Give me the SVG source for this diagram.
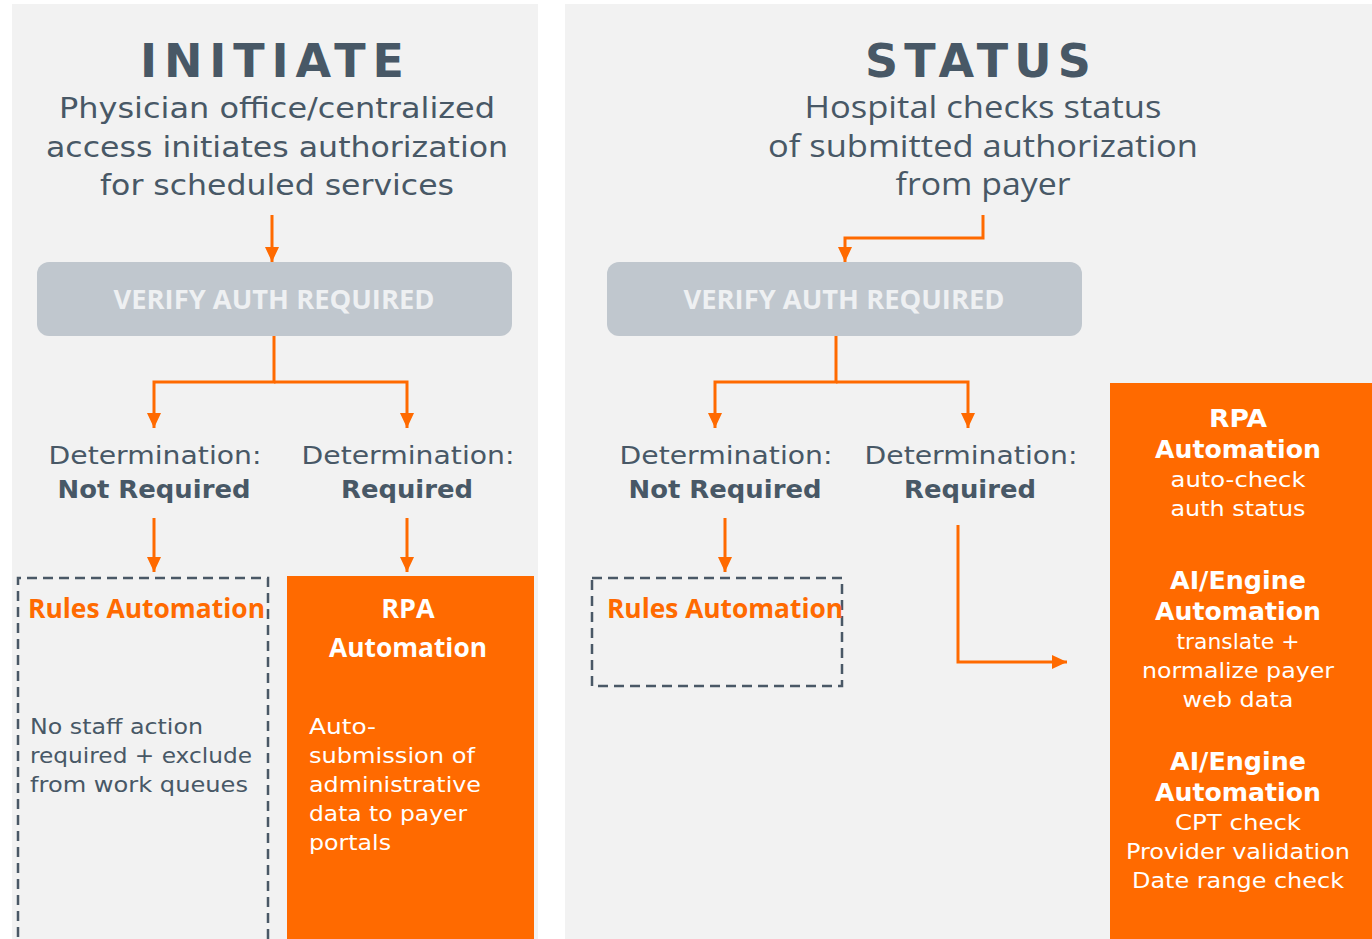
<svg xmlns="http://www.w3.org/2000/svg" width="1372" height="939" viewBox="0 0 1372 939">
<defs>
<marker id="ah" markerWidth="16" markerHeight="16" refX="15" refY="8" orient="auto" markerUnits="userSpaceOnUse" viewBox="0 0 16 16">
<path d="M0,1 L15,8 L0,15 Z" fill="#ff6a00"/>
</marker>
<style>
.panel{fill:#f2f2f2}
.title{font-family:"DejaVu Sans",sans-serif;font-weight:bold;fill:#485866;font-size:46px;text-anchor:middle}
.sub{font-family:"DejaVu Sans",sans-serif;fill:#485866;font-size:29px;text-anchor:middle}
.sub2{font-family:"Open Sans",sans-serif;fill:#485866;font-size:31px;text-anchor:middle}
.vbox{fill:#c0c7ce}
.vtxt{font-family:"Open Sans",sans-serif;font-weight:bold;fill:#eef0f2;font-size:26px;text-anchor:middle}
.det{font-family:"DejaVu Sans",sans-serif;fill:#485866;font-size:25px;text-anchor:middle}
.detb{font-family:"DejaVu Sans",sans-serif;font-weight:bold;fill:#485866;font-size:25px;text-anchor:middle}
.dash{fill:none;stroke:#4a5866;stroke-width:2.5;stroke-dasharray:10 6}
.rules{font-family:"Open Sans",sans-serif;font-weight:bold;fill:#ff6a00;font-size:26px}
.body{font-family:"DejaVu Sans",sans-serif;fill:#485866;font-size:22px}
.obox{fill:#ff6a00}
.wb{font-family:"DejaVu Sans",sans-serif;font-weight:bold;fill:#ffffff;font-size:25px;text-anchor:middle}
.wbc{font-family:"Open Sans",sans-serif;font-weight:bold;fill:#ffffff;font-size:27px;text-anchor:middle}
.w{font-family:"DejaVu Sans",sans-serif;fill:#ffffff;font-size:22px}
.wc{font-family:"DejaVu Sans",sans-serif;fill:#ffffff;font-size:22px;text-anchor:middle}
.conn{fill:none;stroke:#ff6a00;stroke-width:3}
</style>
</defs>
<rect width="1372" height="939" fill="#ffffff"/>
<rect class="panel" x="12" y="4" width="526" height="935"/>
<rect class="panel" x="565" y="4" width="807" height="935"/>

<g id="initiate-header">
<text class="title" x="276" y="77" letter-spacing="8" textLength="272">INITIATE</text>
<text class="sub" x="277" y="118" textLength="436" lengthAdjust="spacingAndGlyphs">Physician office/centralized</text>
<text class="sub" x="277" y="157" textLength="462" lengthAdjust="spacingAndGlyphs">access initiates authorization</text>
<text class="sub" x="277" y="195" textLength="354" lengthAdjust="spacingAndGlyphs">for scheduled services</text>
</g>

<g id="status-header">
<text class="title" x="982" y="77" letter-spacing="8" textLength="234">STATUS</text>
<text class="sub2" x="983" y="118" textLength="357" lengthAdjust="spacingAndGlyphs">Hospital checks status</text>
<text class="sub2" x="983" y="157" textLength="430" lengthAdjust="spacingAndGlyphs">of submitted authorization</text>
<text class="sub2" x="983" y="195" textLength="175" lengthAdjust="spacingAndGlyphs">from payer</text>
</g>

<g id="verify-left">
<rect class="vbox" x="37" y="262" width="475" height="74" rx="12"/>
<text class="vtxt" x="274" y="309" textLength="321" lengthAdjust="spacingAndGlyphs">VERIFY AUTH REQUIRED</text>
</g>
<g id="verify-right">
<rect class="vbox" x="607" y="262" width="475" height="74" rx="12"/>
<text class="vtxt" x="844" y="309" textLength="321" lengthAdjust="spacingAndGlyphs">VERIFY AUTH REQUIRED</text>
</g>

<g id="det-left-not">
<text class="det" x="155" y="464" textLength="213" lengthAdjust="spacingAndGlyphs">Determination:</text>
<text class="detb" x="154" y="498" textLength="193" lengthAdjust="spacingAndGlyphs">Not Required</text>
</g>
<g id="det-left-req">
<text class="det" x="408" y="464" textLength="213" lengthAdjust="spacingAndGlyphs">Determination:</text>
<text class="detb" x="407" y="498" textLength="132" lengthAdjust="spacingAndGlyphs">Required</text>
</g>
<g id="det-right-not">
<text class="det" x="726" y="464" textLength="213" lengthAdjust="spacingAndGlyphs">Determination:</text>
<text class="detb" x="725" y="498" textLength="193" lengthAdjust="spacingAndGlyphs">Not Required</text>
</g>
<g id="det-right-req">
<text class="det" x="971" y="464" textLength="213" lengthAdjust="spacingAndGlyphs">Determination:</text>
<text class="detb" x="970" y="498" textLength="132" lengthAdjust="spacingAndGlyphs">Required</text>
</g>

<g id="rules-left">
<path class="dash" d="M268,939 V578 H18 V939"/>
<text class="rules" x="28" y="618" textLength="237" lengthAdjust="spacingAndGlyphs">Rules Automation</text>
<text class="body" x="30" y="734" textLength="173" lengthAdjust="spacingAndGlyphs">No staff action</text>
<text class="body" x="30" y="763" textLength="222" lengthAdjust="spacingAndGlyphs">required + exclude</text>
<text class="body" x="30" y="792" textLength="218" lengthAdjust="spacingAndGlyphs">from work queues</text>
</g>

<g id="rpa-left">
<rect class="obox" x="287" y="576" width="247" height="363"/>
<text class="wbc" x="408" y="618">RPA</text>
<text class="wbc" x="408" y="657" textLength="158" lengthAdjust="spacingAndGlyphs">Automation</text>
<text class="w" x="309" y="734" textLength="67" lengthAdjust="spacingAndGlyphs">Auto-</text>
<text class="w" x="309" y="763" textLength="166" lengthAdjust="spacingAndGlyphs">submission of</text>
<text class="w" x="309" y="792" textLength="172" lengthAdjust="spacingAndGlyphs">administrative</text>
<text class="w" x="309" y="821" textLength="158" lengthAdjust="spacingAndGlyphs">data to payer</text>
<text class="w" x="309" y="850" textLength="82" lengthAdjust="spacingAndGlyphs">portals</text>
</g>

<g id="rules-right">
<rect class="dash" x="592" y="578" width="250" height="108"/>
<text class="rules" x="607" y="618" textLength="236" lengthAdjust="spacingAndGlyphs">Rules Automation</text>
</g>

<g id="automation-right">
<rect class="obox" x="1110" y="383" width="262" height="556"/>
<text class="wb" x="1238" y="427" textLength="58" lengthAdjust="spacingAndGlyphs">RPA</text>
<text class="wb" x="1238" y="458" textLength="166" lengthAdjust="spacingAndGlyphs">Automation</text>
<text class="wc" x="1238" y="487" textLength="135" lengthAdjust="spacingAndGlyphs">auto-check</text>
<text class="wc" x="1238" y="516" textLength="135" lengthAdjust="spacingAndGlyphs">auth status</text>
<text class="wb" x="1238" y="589" textLength="136" lengthAdjust="spacingAndGlyphs">AI/Engine</text>
<text class="wb" x="1238" y="620" textLength="166" lengthAdjust="spacingAndGlyphs">Automation</text>
<text class="wc" x="1238" y="649" textLength="123" lengthAdjust="spacingAndGlyphs">translate +</text>
<text class="wc" x="1238" y="678" textLength="192" lengthAdjust="spacingAndGlyphs">normalize payer</text>
<text class="wc" x="1238" y="707" textLength="111" lengthAdjust="spacingAndGlyphs">web data</text>
<text class="wb" x="1238" y="770" textLength="136" lengthAdjust="spacingAndGlyphs">AI/Engine</text>
<text class="wb" x="1238" y="801" textLength="166" lengthAdjust="spacingAndGlyphs">Automation</text>
<text class="wc" x="1238" y="830" textLength="126" lengthAdjust="spacingAndGlyphs">CPT check</text>
<text class="wc" x="1238" y="859" textLength="224" lengthAdjust="spacingAndGlyphs">Provider validation</text>
<text class="wc" x="1238" y="888" textLength="212" lengthAdjust="spacingAndGlyphs">Date range check</text>
</g>

<g id="connectors">
<path class="conn" d="M272,215 V262" marker-end="url(#ah)"/>
<path class="conn" d="M274,336 V382 H154 V428" marker-end="url(#ah)"/>
<path class="conn" d="M274,382 H407 V428" marker-end="url(#ah)"/>
<path class="conn" d="M154,518 V572" marker-end="url(#ah)"/>
<path class="conn" d="M407,518 V572" marker-end="url(#ah)"/>
<path class="conn" d="M983,215 V238 H845 V262" marker-end="url(#ah)"/>
<path class="conn" d="M836,336 V382 H715 V428" marker-end="url(#ah)"/>
<path class="conn" d="M836,382 H968 V428" marker-end="url(#ah)"/>
<path class="conn" d="M725,518 V572" marker-end="url(#ah)"/>
<path class="conn" d="M958,525 V662 H1067" marker-end="url(#ah)"/>
</g>
</svg>
